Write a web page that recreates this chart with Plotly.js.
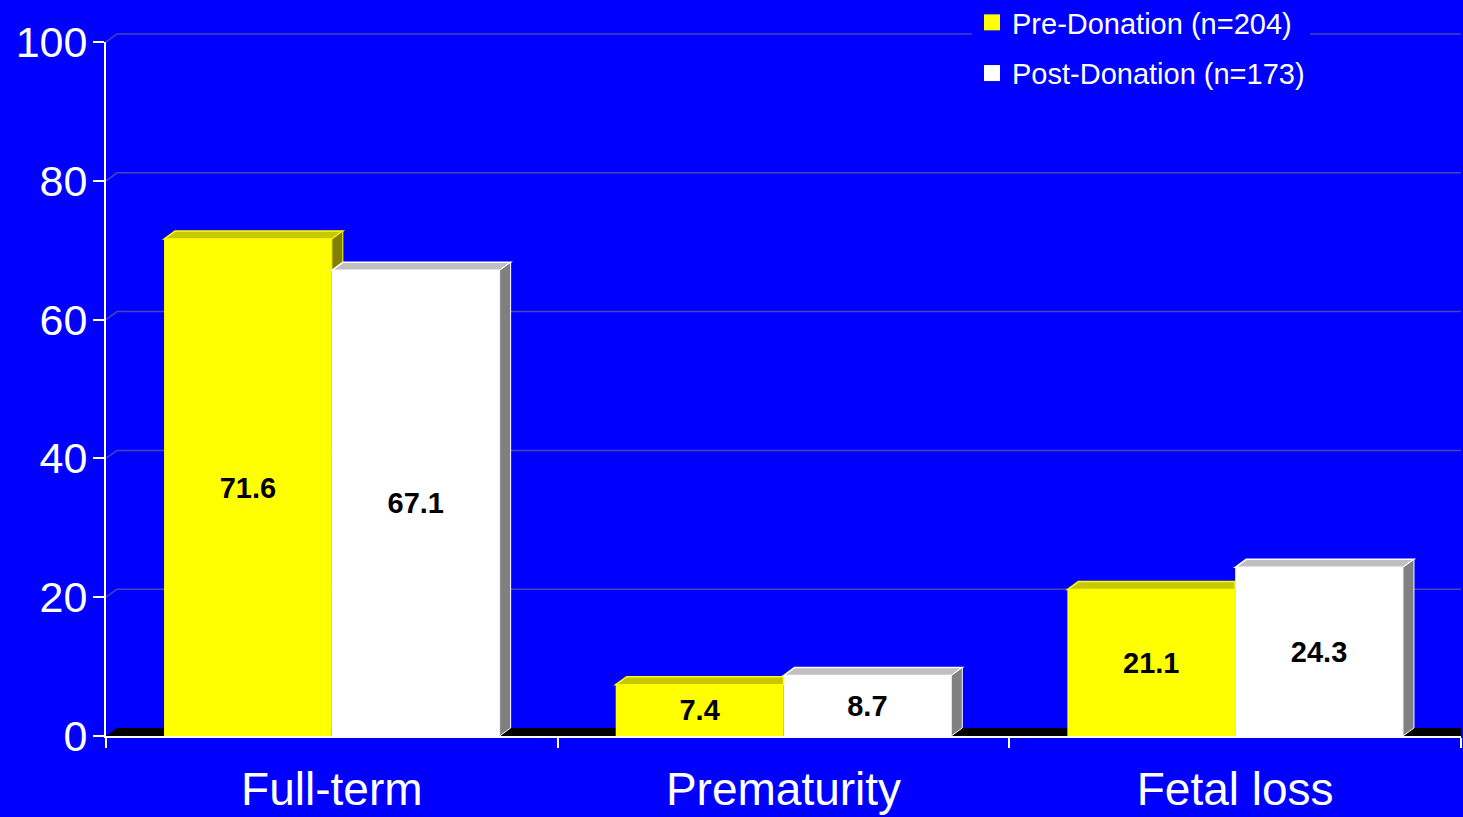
<!DOCTYPE html>
<html>
<head>
<meta charset="utf-8">
<script src="https://cdn.plot.ly/plotly-3.0.1.min.js"></script>
<style>
  html, body { margin: 0; padding: 0; background: #0000ff; overflow: hidden; }
  #chart { width: 1463px; height: 817px; }
</style>
</head>
<body>
<div id="chart"></div>
<script>
// Pregnancy outcomes (%) before and after kidney donation
const categories = ['Full-term', 'Prematurity', 'Fetal loss'];
const preDonation = [71.6, 7.4, 21.1];
const postDonation = [67.1, 8.7, 24.3];
const seriesNames = ['Pre-Donation (n=204)', 'Post-Donation (n=173)'];
const yTickValues = [0, 20, 40, 60, 80, 100];

// Page / plot geometry
const W = 1463, H = 817;
const M = { l: 106, r: 2, t: 42, b: 81, autoexpand: false };
const plotW = W - M.l - M.r;
const plotH = H - M.t - M.b;
const yRange = [0, 100];
const bargap = 0.257;

// Extruded depth of the pseudo-3D bars, floor and back-wall grid
const depthPx = { x: 11, y: 8 };
const dx = depthPx.x / (plotW / categories.length);          // category units
const dy = depthPx.y / (plotH / (yRange[1] - yRange[0]));    // value units
const dxPaper = depthPx.x / plotW;
const dyPaper = depthPx.y / plotH;
const toPaperY = v => (v - yRange[0]) / (yRange[1] - yRange[0]);

const BLUE = '#0000ff';
const SANS = '"Liberation Sans", Arial, sans-serif';

const face = {
  pre:  { front: '#ffff00', top: '#c8c800', side: '#808000', edge: '#ffff00' },
  post: { front: '#ffffff', top: '#c0c0c0', side: '#808080', edge: '#ffffff' }
};

function poly(pts) {
  return 'M' + pts.map(p => p[0] + ',' + p[1]).join('L') + 'Z';
}

const shapes = [];

// back-wall gridlines, pushed back by the depth offset (paper coords so the top one is not clipped)
yTickValues.filter(v => v > yRange[0]).forEach(v => {
  const py = toPaperY(v);
  shapes.push({
    type: 'path', xref: 'paper', yref: 'paper', layer: 'below',
    path: 'M0,' + py + 'L' + dxPaper + ',' + (py + dyPaper) + 'L1,' + (py + dyPaper),
    line: { color: '#4646b8', width: 1.5 }
  });
});

// black floor
shapes.push({
  type: 'path', xref: 'paper', yref: 'paper', layer: 'below',
  path: poly([[0, 0], [dxPaper, dyPaper], [1, dyPaper], [1, 0]]),
  fillcolor: '#000000', line: { width: 0 }
});

// top and side faces of each bar, back bar (pre) first so the post bar overlaps it
const half = (1 - bargap) / 2;
categories.forEach((c, i) => {
  const v = preDonation[i], w = postDonation[i];
  // pre-donation bar: x from i-half to i
  let xl = i - half, xr = i;
  const topRight = (w >= v + dy) ? xr : xr + dx;
  shapes.push({
    type: 'path', xref: 'x', yref: 'y', layer: 'above',
    path: poly([[xl, v], [xl + dx, v + dy], [topRight, v + dy], [xr, v]]),
    fillcolor: face.pre.top, line: { color: face.pre.edge, width: 1.5 }
  });
  if (v > w) {
    shapes.push({
      type: 'path', xref: 'x', yref: 'y', layer: 'above',
      path: poly([[xr, v], [xr + dx, v + dy], [xr + dx, w], [xr, w]]),
      fillcolor: face.pre.side, line: { color: face.pre.edge, width: 1 }
    });
  }
  // post-donation bar: x from i to i+half
  xl = i; xr = i + half;
  shapes.push({
    type: 'path', xref: 'x', yref: 'y', layer: 'above',
    path: poly([[xl, w], [xl + dx, w + dy], [xr + dx, w + dy], [xr, w]]),
    fillcolor: face.post.top, line: { color: face.post.edge, width: 1.5 }
  });
  shapes.push({
    type: 'path', xref: 'x', yref: 'y', layer: 'above',
    path: poly([[xr, w], [xr + dx, w + dy], [xr + dx, dy], [xr, 0]]),
    fillcolor: face.post.side, line: { color: face.post.edge, width: 1 }
  });
});

const labelFont = { family: SANS, size: 29, color: '#000000', weight: 'bold' };

const traces = [
  {
    type: 'bar', x: categories, y: preDonation, name: seriesNames[0],
    marker: { color: face.pre.front, line: { width: 0 } },
    texttemplate: '%{y:.1f}', textposition: 'inside', insidetextanchor: 'middle',
    textangle: 0, insidetextfont: labelFont, showlegend: false, hoverinfo: 'skip'
  },
  {
    type: 'bar', x: categories, y: postDonation, name: seriesNames[1],
    marker: { color: face.post.front, line: { width: 0 } },
    texttemplate: '%{y:.1f}', textposition: 'inside', insidetextanchor: 'middle',
    textangle: 0, insidetextfont: labelFont, showlegend: false, hoverinfo: 'skip'
  },
  // legend swatches
  {
    type: 'scatter', mode: 'markers', x: [null], y: [null], name: seriesNames[0],
    legendgroup: 'pre', marker: { symbol: 'square', size: 21, color: face.pre.front },
    hoverinfo: 'skip'
  },
  {
    type: 'scatter', mode: 'markers', x: [null], y: [null], name: seriesNames[1],
    legendgroup: 'post', marker: { symbol: 'square', size: 21, color: face.post.front },
    hoverinfo: 'skip'
  }
];

const layout = {
  width: W, height: H,
  margin: M,
  paper_bgcolor: BLUE, plot_bgcolor: BLUE,
  barmode: 'group', bargap: bargap, bargroupgap: 0,
  showlegend: true,
  legend: {
    x: (972 - M.l) / plotW, xanchor: 'left',
    y: 1 + (M.t + 3) / plotH, yanchor: 'top',
    bgcolor: BLUE, borderwidth: 0,
    font: { family: SANS, size: 29, color: '#ffffff' },
    traceorder: 'grouped', tracegroupgap: 10, itemsizing: 'trace'
  },
  xaxis: {
    type: 'category', categoryorder: 'array', categoryarray: categories,
    range: [-0.5, categories.length - 0.5],
    showline: true, linecolor: '#ffffff', linewidth: 2,
    ticks: 'outside', tickson: 'boundaries', ticklen: 10, tickwidth: 2, tickcolor: '#ffffff',
    tickfont: { family: SANS, size: 46, color: '#ffffff' }, ticklabelstandoff: 12,
    showgrid: false, zeroline: false, fixedrange: true
  },
  yaxis: {
    range: yRange, tickvals: yTickValues,
    showline: true, linecolor: '#ffffff', linewidth: 2,
    ticks: 'outside', ticklen: 11, tickwidth: 2, tickcolor: '#ffffff',
    tickfont: { family: SANS, size: 43, color: '#ffffff' }, ticklabelstandoff: -3,
    showgrid: false, zeroline: false, fixedrange: true
  },
  shapes: shapes
};

Plotly.newPlot('chart', traces, layout, { displayModeBar: false, staticPlot: true });
</script>
</body>
</html>
